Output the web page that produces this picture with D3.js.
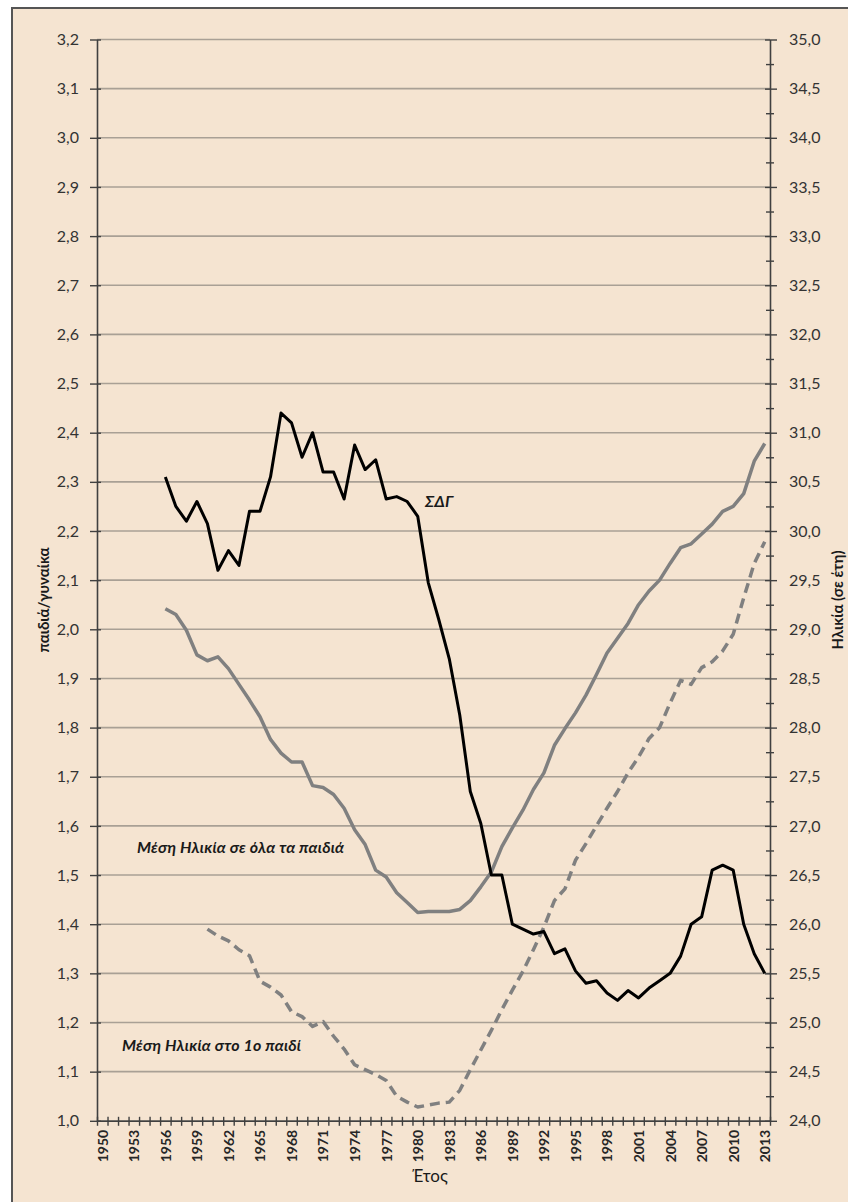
<!DOCTYPE html>
<html>
<head>
<meta charset="utf-8">
<script src="https://cdn.jsdelivr.net/npm/d3@7"></script>
<style>
  body { margin: 0; background: #fff; }
  svg text { font-family: Lato, "Open Sans", sans-serif; }
</style>
</head>
<body>
<div id="chartContainer"></div>
<script>
// --- data (Greece) ---
var tfrStart = 1956;
var tfr = [2.31, 2.25, 2.22, 2.26, 2.215, 2.12, 2.16, 2.13, 2.24, 2.24,
           2.31, 2.44, 2.42, 2.35, 2.40, 2.32, 2.32, 2.265, 2.375, 2.325,
           2.345, 2.265, 2.27, 2.26, 2.23, 2.095, 2.02, 1.94, 1.825, 1.67,
           1.605, 1.50, 1.50, 1.40, 1.39, 1.38, 1.385, 1.34, 1.35, 1.305,
           1.28, 1.285, 1.26, 1.245, 1.265, 1.25, 1.27, 1.285, 1.30, 1.335,
           1.40, 1.415, 1.51, 1.52, 1.51, 1.40, 1.34, 1.30];

var ageAllStart = 1956;
var ageAll = [29.21, 29.15, 28.99, 28.74, 28.68, 28.72, 28.60, 28.44, 28.28, 28.11,
              27.88, 27.74, 27.65, 27.65, 27.41, 27.39, 27.32, 27.18, 26.96, 26.81,
              26.55, 26.48, 26.32, 26.22, 26.12, 26.13, 26.13, 26.13, 26.15, 26.24,
              26.38, 26.53, 26.79, 26.98, 27.16, 27.37, 27.54, 27.82, 27.99, 28.15,
              28.33, 28.54, 28.76, 28.91, 29.06, 29.25, 29.39, 29.50, 29.67, 29.83,
              29.87, 29.97, 30.07, 30.20, 30.25, 30.38, 30.71, 30.89];

var ageFirstStart = 1960;
var ageFirst = [25.95, 25.88, 25.83, 25.74, 25.68, 25.42, 25.36, 25.28, 25.11, 25.06,
                24.96, 25.01, 24.86, 24.73, 24.57, 24.52, 24.47, 24.41, 24.25, 24.19,
                24.14, 24.16, 24.18, 24.19, 24.31, 24.52, 24.72, 24.92, 25.13, 25.33,
                25.52, 25.74, 25.97, 26.24, 26.36, 26.65, 26.82, 27.00, 27.18, 27.35,
                27.54, 27.70, 27.89, 28.00, 28.25, 28.48, 28.44, 28.61, 28.67, 28.78,
                28.95, 29.32, 29.67, 29.89];

var yearLabels = [1950, 1953, 1956, 1959, 1962, 1965, 1968, 1971, 1974, 1977, 1980,
                  1983, 1986, 1989, 1992, 1995, 1998, 2001, 2004, 2007, 2010, 2013];
var leftTicks = [1.0, 1.1, 1.2, 1.3, 1.4, 1.5, 1.6, 1.7, 1.8, 1.9, 2.0, 2.1,
                 2.2, 2.3, 2.4, 2.5, 2.6, 2.7, 2.8, 2.9, 3.0, 3.1, 3.2];
var rightTicks = [24, 24.5, 25, 25.5, 26, 26.5, 27, 27.5, 28, 28.5, 29, 29.5,
                  30, 30.5, 31, 31.5, 32, 32.5, 33, 33.5, 34, 34.5, 35];

var W = 848, H = 1202;
var plot = {left: 97, right: 770, top: 39.5, bottom: 1120.8};

var svg = d3.select("#chartContainer").append("svg")
    .attr("width", W).attr("height", H);

// frame
svg.append("rect")
    .attr("x", 12).attr("y", 8).attr("width", 900).attr("height", 1300)
    .attr("fill", "#f5e4d1").attr("stroke", "#555").attr("stroke-width", 2);

var loc = d3.formatLocale({decimal: ",", thousands: ".", grouping: [3], currency: ["", "€"]});
var fmt1 = loc.format(".1f");

var x = d3.scaleLinear().domain([1949.5, 2013.5]).range([plot.left, plot.right]);
var yL = d3.scaleLinear().domain([1.0, 3.2]).range([plot.bottom, plot.top]);
var yR = d3.scaleLinear().domain([24, 35]).range([plot.bottom, plot.top]);

// gridlines
svg.append("g").selectAll("line")
  .data(leftTicks)
  .enter().append("line")
    .attr("x1", plot.left).attr("x2", plot.right)
    .attr("y1", function (d) { return yL(d); })
    .attr("y2", function (d) { return yL(d); })
    .attr("stroke", "#a9a095").attr("stroke-width", 1.6);

function styleAxis(g) {
  g.select(".domain").attr("stroke", "#404040").attr("stroke-width", 1.6);
  g.selectAll(".tick line").attr("stroke", "#404040").attr("stroke-width", 1.4);
  g.selectAll("text").attr("fill", "#333").style("font-family", "Lato, sans-serif");
}

// left axis
var gl = svg.append("g").attr("transform", "translate(" + plot.left + ",0)")
  .call(d3.axisLeft(yL).tickValues(leftTicks).tickFormat(fmt1).tickSize(7).tickPadding(11).tickSizeOuter(0));
gl.selectAll(".tick line").attr("x1", 4);
gl.selectAll("text").style("font-size", "16px");
styleAxis(gl);

// right axis, majors + minors
var gr = svg.append("g").attr("transform", "translate(" + plot.right + ",0)")
  .call(d3.axisRight(yR).tickValues(rightTicks).tickFormat(fmt1).tickSize(7).tickPadding(12).tickSizeOuter(0));
gr.selectAll(".tick line").attr("x1", -5);
gr.selectAll("text").style("font-size", "16px");
styleAxis(gr);

var minors = rightTicks.slice(0, -1).map(function (d) { return d + 0.25; });
var grm = svg.append("g").attr("transform", "translate(" + plot.right + ",0)")
  .call(d3.axisRight(yR).tickValues(minors).tickFormat("").tickSize(4).tickSizeOuter(0));
grm.select(".domain").remove();
grm.selectAll(".tick line").attr("x1", -4);
styleAxis(grm);

// bottom axis: tick marks between categories
var bounds = d3.range(1949.5, 2014, 1);
var gb = svg.append("g").attr("transform", "translate(0," + plot.bottom + ")")
  .call(d3.axisBottom(x).tickValues(bounds).tickFormat("").tickSize(5).tickSizeOuter(0));
gb.selectAll(".tick line").attr("y1", -4);
styleAxis(gb);

var gbl = svg.append("g").attr("transform", "translate(0," + plot.bottom + ")")
  .call(d3.axisBottom(x).tickValues(yearLabels).tickFormat(d3.format("d")).tickSize(0));
gbl.select(".domain").remove();
gbl.selectAll("text")
    .attr("y", 0).attr("x", -9).attr("dy", "0.35em")
    .attr("transform", "rotate(-90)")
    .style("text-anchor", "end")
    .style("font-size", "14px").style("font-weight", "bold")
    .attr("fill", "#262626");

// series
function series(arr, start) {
  return arr.map(function (v, i) { return {year: start + i, v: v}; });
}

var lineL = d3.line().x(function (d) { return x(d.year); }).y(function (d) { return yL(d.v); });
var lineR = d3.line().x(function (d) { return x(d.year); }).y(function (d) { return yR(d.v); });

svg.append("path").datum(series(ageFirst, ageFirstStart))
    .attr("d", lineR).attr("fill", "none")
    .attr("stroke", "#808080").attr("stroke-width", 3.5)
    .attr("stroke-dasharray", "10,6").attr("stroke-linejoin", "round");

svg.append("path").datum(series(ageAll, ageAllStart))
    .attr("d", lineR).attr("fill", "none")
    .attr("stroke", "#808080").attr("stroke-width", 3.5).attr("stroke-linejoin", "round");

svg.append("path").datum(series(tfr, tfrStart))
    .attr("d", lineL).attr("fill", "none")
    .attr("stroke", "#000").attr("stroke-width", 3).attr("stroke-linejoin", "round");

// series labels
var notes = [
  {t: "ΣΔΓ", x: 425, y: 507},
  {t: "Μέση Ηλικία σε όλα τα παιδιά", x: 137, y: 853},
  {t: "Μέση Ηλικία στο 1ο παιδί", x: 122, y: 1051}
];
svg.selectAll("text.note")
  .data(notes)
  .enter().append("text")
    .attr("class", "note")
    .attr("x", function (d) { return d.x; })
    .attr("y", function (d) { return d.y; })
    .style("font-size", "16px").style("font-style", "italic").style("font-weight", "bold")
    .style("letter-spacing", "0.2px")
    .attr("fill", "#1a1a1a")
    .text(function (d) { return d.t; });

// axis titles
svg.append("text")
    .attr("transform", "translate(49,600) rotate(-90)")
    .style("text-anchor", "middle").style("font-size", "15px").style("font-weight", "bold")
    .attr("fill", "#1a1a1a")
    .text("παιδιά/γυναίκα");

svg.append("text")
    .attr("transform", "translate(843,600) rotate(-90)")
    .style("text-anchor", "middle").style("font-size", "15px").style("font-weight", "bold")
    .attr("fill", "#1a1a1a")
    .text("Ηλικία (σε έτη)");

svg.append("text")
    .attr("x", 430).attr("y", 1182)
    .style("text-anchor", "middle").style("font-size", "17px")
    .attr("fill", "#1a1a1a")
    .text("Έτος");
</script>
</body>
</html>
